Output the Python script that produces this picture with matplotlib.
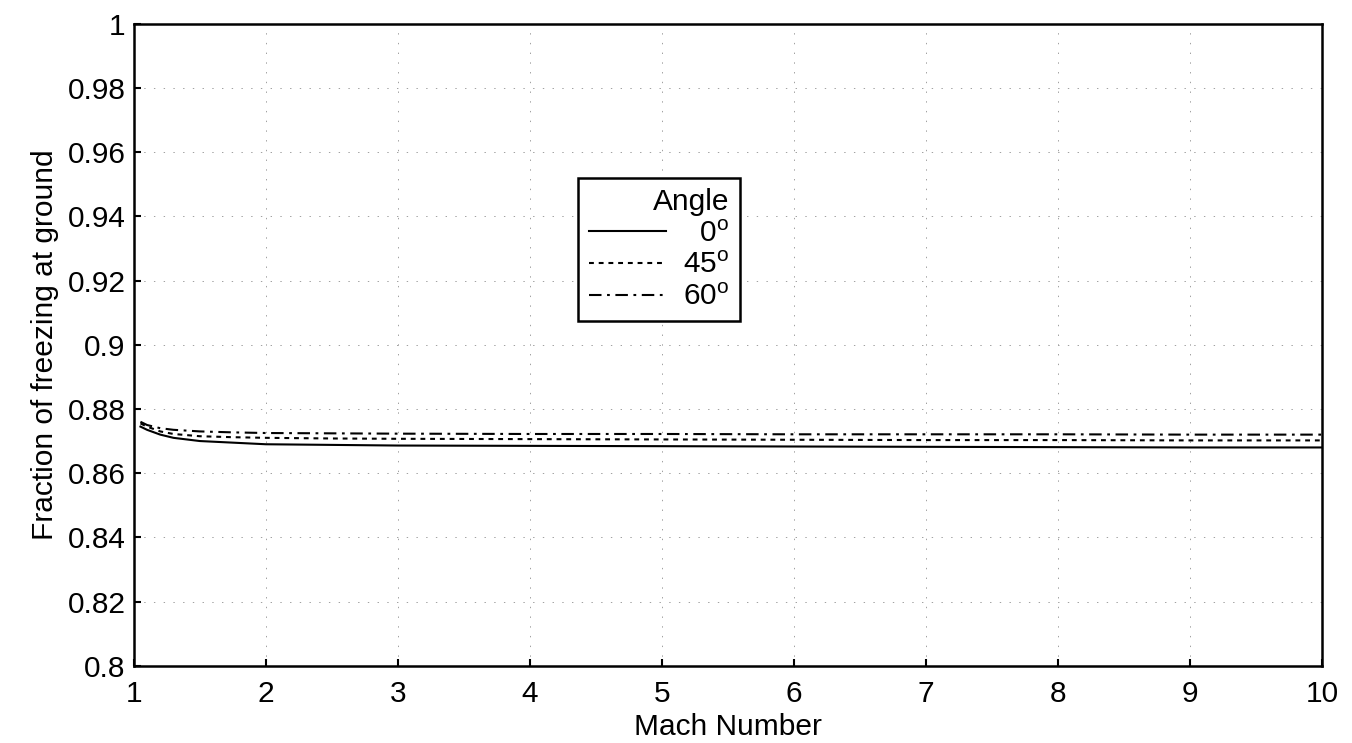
import numpy as np
import matplotlib
matplotlib.use('Agg')
from matplotlib import pyplot as plt
from matplotlib.ticker import FuncFormatter

# values
mach = [1.05, 1.1, 1.2, 1.3, 1.5, 1.75, 2, 2.5, 3, 4, 5, 6, 7, 8, 9, 10]
frac_0 = [0.8745, 0.8735, 0.8720, 0.8710, 0.8700, 0.8695, 0.8690, 0.8688,
          0.8686, 0.8685, 0.8684, 0.8683, 0.8682, 0.8681, 0.8680, 0.8680]
frac_45 = [0.8755, 0.8745, 0.8730, 0.8722, 0.8715, 0.8712, 0.8710, 0.8708,
           0.8707, 0.8706, 0.8705, 0.8704, 0.8703, 0.8703, 0.8702, 0.8702]
frac_60 = [0.8760, 0.8750, 0.8740, 0.8735, 0.8730, 0.8727, 0.8725, 0.8724,
           0.8723, 0.8722, 0.8722, 0.8721, 0.8721, 0.8721, 0.8720, 0.8720]
angle_labels = ['\u20070$^{\\mathrm{o}}$', '45$^{\\mathrm{o}}$', '60$^{\\mathrm{o}}$']
x_ticks = list(range(1, 11))
y_ticks = [0.8, 0.82, 0.84, 0.86, 0.88, 0.9, 0.92, 0.94, 0.96, 0.98, 1.0]

plt.rcParams['font.family'] = ['Liberation Sans', 'DejaVu Sans']
plt.rcParams['mathtext.fontset'] = 'custom'
plt.rcParams['mathtext.rm'] = 'Liberation Sans'
plt.rcParams['mathtext.it'] = 'Liberation Sans:italic'
plt.rcParams['lines.scale_dashes'] = False

fs = 21.5
fig = plt.figure(figsize=(13.52, 7.43), dpi=100)
ax = fig.add_axes([0.099, 0.104, 0.879, 0.864])

styles = ['-', (0, (3.5, 3.5)), (0, (9, 4, 2, 4))]
for y, ls, lab in zip([frac_0, frac_45, frac_60], styles, angle_labels):
    ax.plot(mach, y, color='black', linestyle=ls, linewidth=1.5, label=lab)

ax.set_xlim(1, 10)
ax.set_ylim(0.8, 1.0)
ax.set_xticks(x_ticks)
ax.set_yticks(y_ticks)
ax.yaxis.set_major_formatter(FuncFormatter(lambda v, p: '%g' % round(v, 2)))
ax.tick_params(direction='in', length=5, width=1.5, labelsize=fs)
ax.tick_params(axis='x', pad=10)
ax.tick_params(axis='y', pad=6)
ax.grid(True, color='#a0a0a0', linestyle=(0, (1, 6)), linewidth=0.7)
for s in ax.spines.values():
    s.set_linewidth(1.8)

ax.set_xlabel('Mach Number', fontsize=fs, labelpad=4)
ax.set_ylabel('Fraction of freezing at ground', fontsize=fs, labelpad=6)

leg = ax.legend(title='Angle', loc='upper left', bbox_to_anchor=(0.374, 0.760),
                borderaxespad=0, fontsize=fs, title_fontsize=fs, handlelength=2.6,
                handletextpad=0.55, labelspacing=0.12, borderpad=0.35,
                fancybox=False, framealpha=1, edgecolor='black', alignment='right')
leg.get_frame().set_linewidth(1.8)

plt.savefig('out.png', dpi=100)
